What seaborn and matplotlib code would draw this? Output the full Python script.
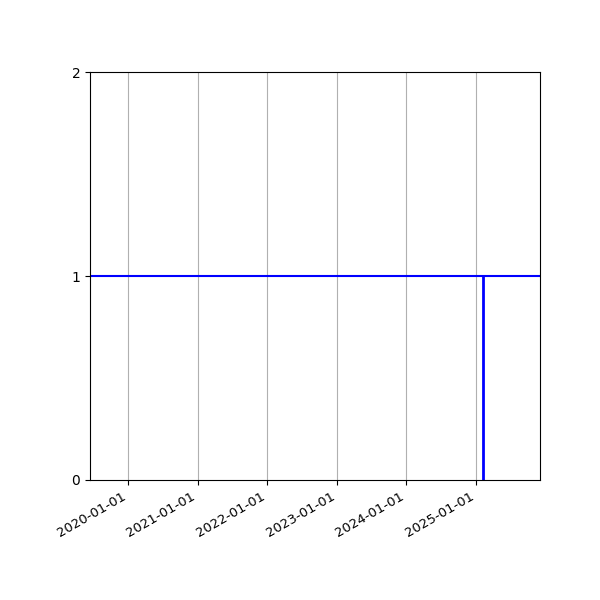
import pandas as pd
import seaborn as sns
import matplotlib
matplotlib.use("Agg")
import matplotlib.pyplot as plt
import matplotlib.dates as mdates

# serie constante em 1 ao longo do periodo
datas = pd.to_datetime(["2019-06-16", "2025-12-02"])
valores = [1, 1]

# evento marcado com linha vertical
data_evento = pd.to_datetime("2025-02-08")
altura_evento = 1

limite_y = (0, 2)
ticks_y = [0, 1, 2]

df = pd.DataFrame({"data": datas, "valor": valores})

fig, ax = plt.subplots(figsize=(6, 6), dpi=100)
sns.lineplot(x="data", y="valor", data=df, color="blue", linewidth=1.5, ax=ax)
ax.vlines(data_evento, 0, altura_evento, colors="blue", linewidth=2)

ax.set_xlim(datas[0], datas[-1])
ax.set_ylim(*limite_y)
ax.set_yticks(ticks_y)
ax.xaxis.set_major_locator(mdates.YearLocator())
ax.xaxis.set_major_formatter(mdates.DateFormatter("%Y-%m-%d"))
ax.grid(True, axis="x")
ax.set_xlabel("")
ax.set_ylabel("")

fig.autofmt_xdate()
ax.tick_params(axis="x", labelsize=9.5)
fig.subplots_adjust(left=0.15, right=0.9, top=0.88, bottom=0.2)
plt.savefig("out.png")
